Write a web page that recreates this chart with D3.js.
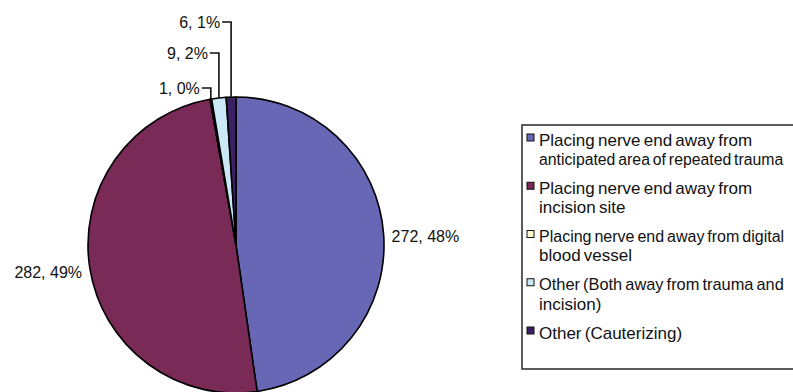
<!DOCTYPE html>
<html>
<head>
<meta charset="utf-8">
<script src="https://cdn.jsdelivr.net/npm/d3@7/dist/d3.min.js"></script>
<style>
  html, body { margin: 0; padding: 0; background: #fff; }
  svg { display: block; }
  text { font-family: "Liberation Sans", Arial, sans-serif; fill: #111; }
</style>
</head>
<body>
<svg id="chart" width="793" height="392"></svg>
<script>
// Nerve-end placement techniques (counts)
const categories = [
  ["Placing nerve end away from", "anticipated area of repeated trauma"],
  ["Placing nerve end away from", "incision site"],
  ["Placing nerve end away from digital", "blood vessel"],
  ["Other (Both away from trauma and", "incision)"],
  ["Other (Cauterizing)"]
];
const values = [272, 282, 1, 9, 6];
const colors = ["#6767b6", "#7a2a57", "#ffffd2", "#cbe8f6", "#3b2063"];

// Small slices get stacked labels above the pie with leader lines
const smallLabelRows = { 2: 88, 3: 53, 4: 22 };

const svg = d3.select("#chart");
const W = 793;
const cx = 236, cy = 245, r = 148;
const total = d3.sum(values);
const pct = v => Math.round(v / total * 100) + "%";

const pie = d3.pie().sort(null).value(d => d)(values);
const arc = d3.arc().innerRadius(0).outerRadius(r);

const g = svg.append("g").attr("transform", `translate(${cx},${cy})`);

g.selectAll("path.slice")
  .data(pie)
  .join("path")
  .attr("class", "slice")
  .attr("d", arc)
  .attr("fill", (d, i) => colors[i])
  .attr("stroke", "#000")
  .attr("stroke-width", 1.6)
  .attr("stroke-linejoin", "round");

const mid = d => (d.startAngle + d.endAngle) / 2;

pie.forEach((d, i) => {
  const a = mid(d);
  const label = values[i] + ", " + pct(values[i]);
  if (smallLabelRows[i] !== undefined) {
    const ex = r * Math.sin(a), ey = -r * Math.cos(a);
    const ly = smallLabelRows[i] - cy;
    g.append("path")
      .attr("d", `M${ex - 9},${ly} H${ex} V${ey}`)
      .attr("fill", "none")
      .attr("stroke", "#111")
      .attr("stroke-width", 1.6);
    g.append("text")
      .attr("x", ex - 11)
      .attr("y", ly)
      .attr("dy", "0.35em")
      .attr("text-anchor", "end")
      .attr("font-size", 16)
      .text(label);
  } else {
    const lr = r + 8;
    const lx = lr * Math.sin(a), ly = -lr * Math.cos(a);
    g.append("text")
      .attr("x", lx)
      .attr("y", ly + 3)
      .attr("dy", "0.35em")
      .attr("text-anchor", Math.sin(a) >= 0 ? "start" : "end")
      .attr("font-size", 16)
      .text(label);
  }
});

// Legend (box runs off the right edge)
const lg = svg.append("g");
lg.append("rect")
  .attr("x", 522).attr("y", 125)
  .attr("width", 290).attr("height", 244)
  .attr("fill", "#fff")
  .attr("stroke", "#333")
  .attr("stroke-width", 1.6);

const textX = 539;
const maxW = W - textX - 8;
const itemY = d3.scaleLinear().domain([0, 4]).range([140, 333]);
categories.forEach((lines, i) => {
  const y = itemY(i);
  lg.append("rect")
    .attr("x", 527).attr("y", y - 6)
    .attr("width", 7).attr("height", 7)
    .attr("fill", colors[i])
    .attr("stroke", "#111")
    .attr("stroke-width", 1);
  lines.forEach((t, j) => {
    const tx = lg.append("text")
      .attr("x", textX)
      .attr("y", y + j * 19)
      .attr("dy", "0.35em")
      .attr("font-size", 17)
      .attr("word-spacing", -1.5)
      .text(t);
    // shrink long lines so they stay inside the page
    const len = tx.node().getComputedTextLength();
    if (len > maxW) {
      tx.attr("font-size", Math.floor(17 * maxW / len * 10) / 10);
    }
  });
});
</script>
</body>
</html>
